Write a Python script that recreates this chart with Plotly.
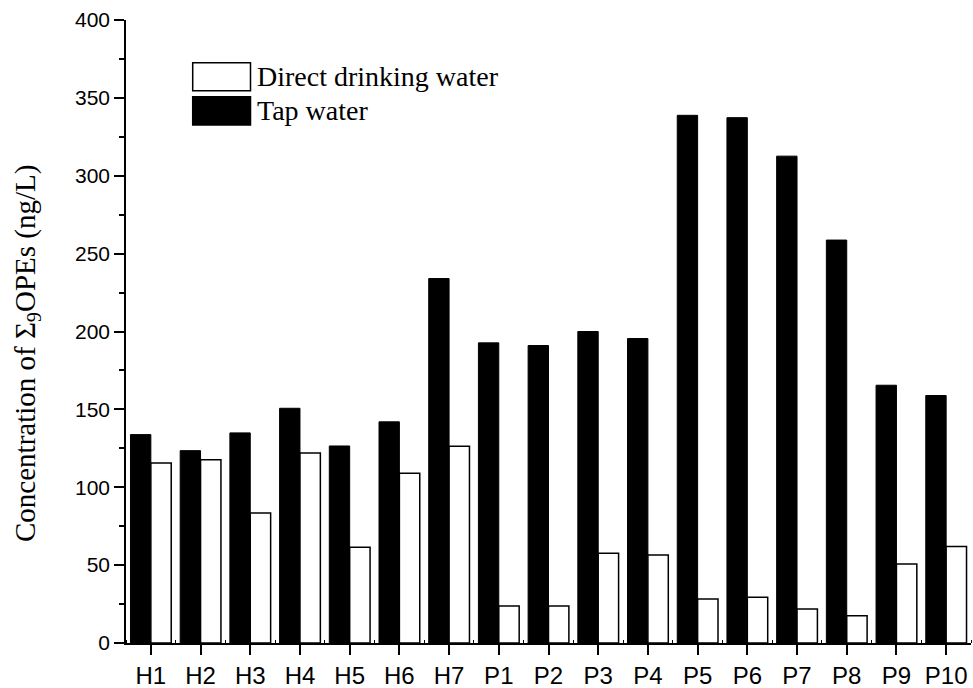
import plotly.graph_objects as go

# Sampling sites (households H, public places P)
sites = ["H1", "H2", "H3", "H4", "H5", "H6", "H7",
         "P1", "P2", "P3", "P4", "P5", "P6", "P7", "P8", "P9", "P10"]

# Sum of 9 OPEs concentrations, ng/L
tap_water = [133.8, 123.5, 134.9, 150.7, 126.5, 142.0, 234.0,
             192.7, 191.0, 200.0, 195.5, 338.8, 337.3, 312.6, 258.7, 165.5, 158.9]
direct_drinking = [115.6, 117.6, 83.5, 122.0, 61.4, 109.0, 126.3,
                   23.8, 23.8, 57.6, 56.5, 28.2, 29.3, 21.8, 17.5, 50.7, 61.9]

y_ticks = [0, 50, 100, 150, 200, 250, 300, 350, 400]

series_names = ["Tap water", "Direct drinking water"]

positions = list(range(len(sites)))

fig = go.Figure()
fig.add_trace(go.Bar(
    x=positions, y=tap_water, name=series_names[0],
    marker=dict(color="black", line=dict(color="black", width=1)),
    showlegend=False,
))
fig.add_trace(go.Bar(
    x=positions, y=direct_drinking, name=series_names[1],
    marker=dict(color="white", line=dict(color="black", width=1.5)),
    showlegend=False,
))

serif = "Liberation Serif, Times New Roman, serif"
sans = "Liberation Sans, Arial, sans-serif"

W, H = 973, 688
ML, MR, MT, MB = 126, 2, 20, 45
pw, ph = W - ML - MR, H - MT - MB


def px_x(p):
    return (p - ML) / pw


def px_y(p):
    return (H - MB - p) / ph


fig.update_layout(
    width=W, height=H,
    margin=dict(l=ML, r=MR, t=MT, b=MB, autoexpand=False),
    paper_bgcolor="white", plot_bgcolor="white",
    barmode="group", bargap=0.18, bargroupgap=0,
    showlegend=False,
    xaxis=dict(
        range=[-0.5, len(sites) - 0.5], automargin=False,
        tickmode="array", tickvals=positions, ticktext=sites,
        ticks="outside", ticklen=10, tickwidth=1.5, tickcolor="black",
        showline=True, linecolor="black", linewidth=1.5,
        showgrid=False, zeroline=False,
        tickfont=dict(family=sans, size=24, color="black"),
        minor=dict(ticks="inside", ticklen=3, tickwidth=1, tickcolor="black",
                   tick0=0.5, dtick=1, showgrid=False),
    ),
    yaxis=dict(
        range=[0, 400], automargin=False,
        tickmode="array", tickvals=y_ticks,
        ticks="outside", ticklen=10, tickwidth=1.5, tickcolor="black",
        showline=True, linecolor="black", linewidth=1.5,
        showgrid=False, zeroline=False,
        tickfont=dict(family=sans, size=21, color="black"),
        minor=dict(ticks="outside", ticklen=5, tickwidth=1.5, tickcolor="black",
                   tick0=25, dtick=50, showgrid=False),
    ),
)

# Axis title
fig.add_annotation(
    text="Concentration of Σ<sub>9</sub>OPEs (ng/L)",
    xref="paper", yref="paper", x=px_x(27), y=px_y(354),
    xanchor="center", yanchor="middle", textangle=-90, showarrow=False,
    font=dict(family=serif, size=29, color="black"),
)

# Legend: filled patches with labels
legend_rows = [
    (series_names[1], "white", 62.7, 90.7),
    (series_names[0], "black", 96.7, 125.0),
]
for label, fill, top, bottom in legend_rows:
    fig.add_shape(
        type="rect", xref="paper", yref="paper",
        x0=px_x(192.7), x1=px_x(250.5), y0=px_y(bottom), y1=px_y(top),
        fillcolor=fill, line=dict(color="black", width=1.5),
    )
    fig.add_annotation(
        text=label, xref="paper", yref="paper",
        x=px_x(255), y=px_y((top + bottom) / 2),
        xanchor="left", yanchor="middle", showarrow=False,
        font=dict(family=serif, size=28, color="black"),
    )

fig.write_html("out.html")
